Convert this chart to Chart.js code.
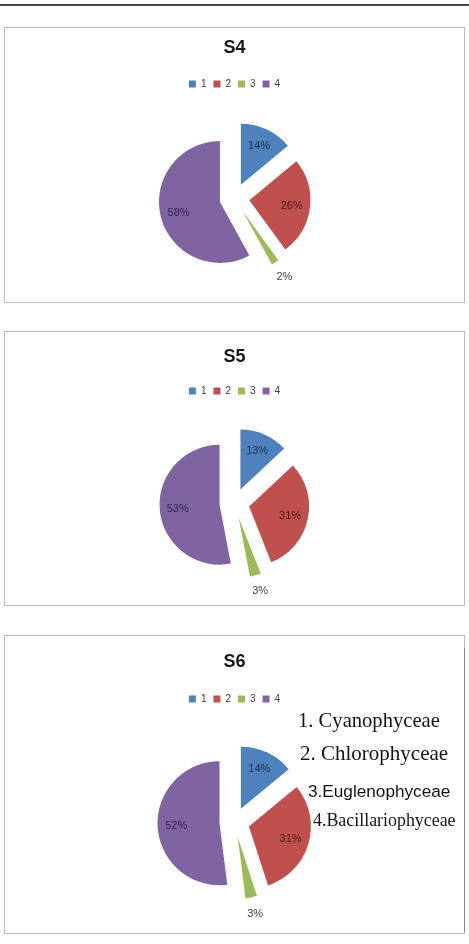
<!DOCTYPE html>
<html>
<head>
<meta charset="utf-8">
<title>S4 / S5 / S6 class composition</title>
<script src="https://cdn.jsdelivr.net/npm/chart.js@4.4.1/dist/chart.umd.min.js"></script>
<style>
  body { margin: 0; background: #fff; width: 469px; height: 944px; position: relative; overflow: hidden; }
  .rule { position: absolute; left: 0; top: 4px; width: 469px; height: 2px; background: #444; }
  .panel { position: absolute; left: 4px; width: 461px; box-sizing: border-box; border: 1px solid #bdbdbd; background: #fff; }
  .panel canvas { position: absolute; left: 0; top: 0; }
  .name { position: absolute; white-space: nowrap; color: #141414; line-height: 22px; }
</style>
</head>
<body>
<div class="rule"></div>
<div class="panel" style="top:27px;height:276px"><canvas id="s4" width="459" height="274"></canvas></div>
<div class="panel" style="top:331px;height:275px"><canvas id="s5" width="459" height="273"></canvas></div>
<div class="panel" style="top:635px;height:299px"><canvas id="s6" width="459" height="297"></canvas></div>
<div style="position:absolute;left:464px;top:648px;width:1px;height:284px;background:#888"></div>
<div id="names"></div>

<script>
// values (percent of total per class)
const groups = ["1", "2", "3", "4"];
const stations = ["S4", "S5", "S6"];
const s4Share = [14, 26, 2, 58];
const s5Share = [13, 31, 3, 53];
const s6Share = [14, 31, 3, 52];
const classNames = ["1. Cyanophyceae", "2. Chlorophyceae", "3.Euglenophyceae", "4.Bacillariophyceae"];

// Office style palette
const sliceColors = ["#4F81BD", "#C0504D", "#9BBB59", "#8064A2"];
const labelInk = ["#1d3354", "#4a1a1a", "#404040", "#33264d"];
const sansFamily = "'Liberation Sans', Arial, sans-serif";
const serifFamily = "'Liberation Serif', 'Times New Roman', serif";
const explode = 15;

// Chart.js grows some exploded slices; move them out without changing radius
const baseArcDraw = Chart.ArcElement.prototype.draw;
Chart.ArcElement.prototype.draw = function (ctx) {
  const shift = this.options.offset || 0;
  const mid = (this.startAngle + this.endAngle) / 2;
  const flat = Object.create(this);
  flat.options = Object.assign({}, this.options, { offset: 0 });
  ctx.save();
  ctx.translate(Math.cos(mid) * shift, Math.sin(mid) * shift);
  baseArcDraw.call(flat, ctx);
  ctx.restore();
};

// percentage labels: inside big slices, outside the small one
const sliceLabels = {
  id: "sliceLabels",
  afterDatasetsDraw(chart) {
    const meta = chart.getDatasetMeta(0);
    const values = chart.data.datasets[0].data;
    const ctx = chart.ctx;
    ctx.save();
    ctx.font = "11px " + sansFamily;
    ctx.textAlign = "center";
    ctx.textBaseline = "middle";
    meta.data.forEach((arc, i) => {
      const mid = (arc.startAngle + arc.endAngle) / 2;
      const outside = values[i] < 5;
      const dist = (arc.options.offset || 0) + arc.outerRadius * (outside ? 1.28 : 0.7);
      ctx.fillStyle = outside ? "#444" : labelInk[i];
      ctx.fillText(values[i] + "%", arc.x + Math.cos(mid) * dist, arc.y + Math.sin(mid) * dist);
    });
    ctx.restore();
  },
};

function drawStation(canvasId, title, shares, box) {
  new Chart(document.getElementById(canvasId), {
    type: "pie",
    data: {
      labels: groups,
      datasets: [
        {
          data: shares,
          backgroundColor: sliceColors,
          borderWidth: 0,
          offset: explode,
          hoverOffset: 0,
        },
      ],
    },
    options: {
      responsive: false,
      animation: false,
      events: [],
      layout: { padding: { left: box.side, right: box.side, top: 0, bottom: box.bottom } },
      plugins: {
        title: {
          display: true,
          text: title,
          color: "#1a1a1a",
          font: { family: sansFamily, size: 18, weight: "bold" },
          padding: { top: box.titleTop, bottom: box.titleBottom },
        },
        legend: {
          position: "top",
          labels: {
            boxWidth: 7,
            boxHeight: 7,
            padding: 7,
            color: "#404040",
            font: { family: sansFamily, size: 10 },
          },
        },
        tooltip: { enabled: false },
      },
    },
    plugins: [sliceLabels],
  });
}

drawStation("s4", stations[0], s4Share, { side: 161, bottom: 4.5, titleTop: 9.2, titleBottom: 13.2 });
drawStation("s5", stations[1], s5Share, { side: 162, bottom: 4.5, titleTop: 14.2, titleBottom: 11.2 });
drawStation("s6", stations[2], s6Share, { side: 160, bottom: 2.5, titleTop: 15.2, titleBottom: 14.2 });

// class key written beside the S6 pie
const nameSpots = [
  { left: 298, top: 709, font: "20.6px " + serifFamily },
  { left: 300, top: 742, font: "21px " + serifFamily },
  { left: 308, top: 780, font: "17.2px " + sansFamily },
  { left: 313, top: 809, font: "17.9px " + serifFamily },
];
const namesBox = document.getElementById("names");
classNames.forEach((text, i) => {
  const el = document.createElement("div");
  el.className = "name";
  el.textContent = text;
  el.style.left = nameSpots[i].left + "px";
  el.style.top = nameSpots[i].top + "px";
  el.style.font = nameSpots[i].font;
  el.style.lineHeight = "22px";
  namesBox.appendChild(el);
});
</script>
</body>
</html>
